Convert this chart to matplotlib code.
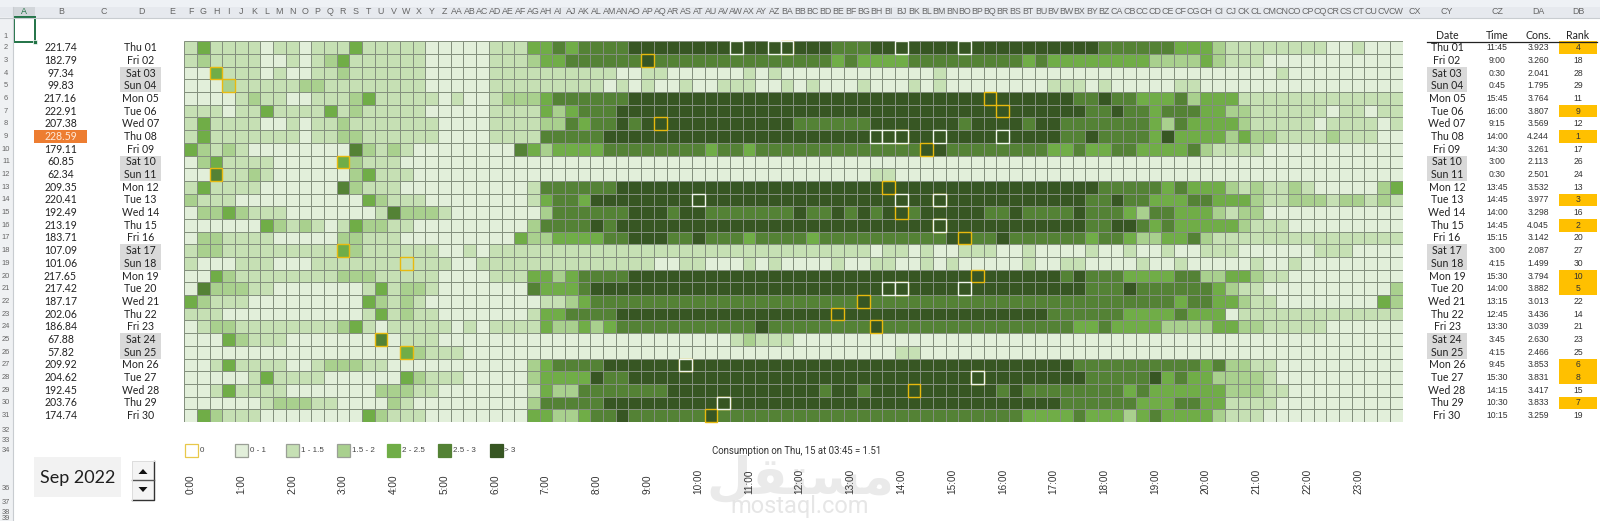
#!/usr/bin/env python3
"""Monthly load-profile heat map, redrawn from an Excel sheet screenshot."""

import matplotlib
import matplotlib.patches as patches
import matplotlib.pyplot as plt
import numpy as np
from matplotlib.colors import BoundaryNorm, ListedColormap

matplotlib.use("Agg")

W, H = 1600, 521

DAYS = [
    "Thu 01", "Fri 02", "Sat 03", "Sun 04", "Mon 05", "Tue 06", "Wed 07", "Thu 08",
    "Fri 09", "Sat 10", "Sun 11", "Mon 12", "Tue 13", "Wed 14", "Thu 15", "Fri 16",
    "Sat 17", "Sun 18", "Mon 19", "Tue 20", "Wed 21", "Thu 22", "Fri 23", "Sat 24",
    "Sun 25", "Mon 26", "Tue 27", "Wed 28", "Thu 29", "Fri 30",
]
TOTALS = [
    221.74, 182.79, 97.34, 99.83, 217.16, 222.91, 207.38, 228.59, 179.11, 60.85,
    62.34, 209.35, 220.41, 192.49, 213.19, 183.71, 107.09, 101.06, 217.65, 217.42,
    187.17, 202.06, 186.84, 67.88, 57.82, 209.92, 204.62, 192.45, 203.76, 174.74,
]
PEAK_TIME = [
    "11:45", "9:00", "0:30", "0:45", "15:45", "16:00", "9:15", "14:00", "14:30", "3:00",
    "0:30", "13:45", "14:45", "14:00", "14:45", "15:15", "3:00", "4:15", "15:30", "14:00",
    "13:15", "12:45", "13:30", "3:45", "4:15", "9:45", "15:30", "14:15", "10:30", "10:15",
]
PEAK_CONS = [
    3.923, 3.260, 2.041, 1.795, 3.764, 3.807, 3.569, 4.244, 3.261, 2.113,
    2.501, 3.532, 3.977, 3.298, 4.045, 3.142, 2.087, 1.499, 3.794, 3.882,
    3.013, 3.436, 3.039, 2.630, 2.466, 3.853, 3.831, 3.417, 3.833, 3.259,
]
PEAK_RANK = [
    4, 18, 28, 29, 11, 9, 12, 1, 17, 26, 24, 13, 3, 16, 2,
    20, 27, 30, 10, 5, 22, 14, 21, 23, 25, 6, 8, 15, 7, 19,
]

# colour class of every quarter hour, one string per day (spaces only for reading)
LEVELS = [
    "24222212212224222 2211111222 44545555 6666666666666666 555 666 666666666666666 555555 444 3 22222222 11 2 11 1",
    "23222211212342222 2211111222 344 555555 6 55555555555555 4 5 4444 555555555 4 5 44444444 3333 4 3 222 11111111111",
    "11422212112232222 2211111222 2222222 11 22 111111 2 1 2 1111111111 11 2 11111111111111111111111111 2 111111111",
    "11132222233222222 2211111222 222222 1 2 1 2 11 2 11 222 11 2 1 2 111 2 111 2 1 2 11111111 222 1 2 11111 22 1111111111111111",
    "11112322112223422 22212112333 4 555555 6666666666666666666666 6666666666666 55 6 55 444 5 3 444 2222222222222",
    "22212242222423222 22111112222 4 3 4 555 66666666666666666666666 66666666666666 55 6 55 4 555 44 33 222222 1 22 1 2 2",
    "24222211212232222 22211112222 33 5 4 55 6 5 6 66666666666 555555 666 6666 5 6666 5 66 5555555 4 3 5 4444 3 22222 1 222 2 1 2",
    "24222222212233222 22211112222 55555 666666666666666666666666 666666666666 55 6 5555 4 6 4444 3 4 33 2222 3 22 2 1 1",
    "43232111111115323 2 11111111 5 4 3 4444 55555555 4 55 4 555555555555 5 66 55555555 44 5 44 55 4444 5 3 2222 11111111111",
    "13422221111143222 1111111111111111111111111111111111111111 111111111111111111111111111111111111111",
    "11522321111113422 2 111111111111111111111111111111111111 22 1 111111111111111111111111111111111111111",
    "24222211111153222 1111111111 2 555555 66666666666666666666666 666666666666666 55555 4 5 444 3 2 3 22 3 2 111 1 1 3 4",
    "32221111111111432 22111111112 4 55 4 66 66666666666666666666666 66666666666666 55 6 55 444 55 444 3 22 333 2 3 3 2 3 2",
    "13343222111111125 33321111111 3 555555 666 5 66 5555555 6 55 6 5 6 5 66 5 66666 55 6 5555 6 555 4 3 55 444 3 2 33 11111111111",
    "11111143232124332 2 111111111 3 5555 6 5 66666666666666666666666 66666666666666 55 66 5 4 5 44444 3 222 111111111",
    "13322221111133222 111111111 4 33 4444 55 666 55 6 555 4 5555 4 5555555 555 66 55 6 555555 4 55 4 33 44 5 3 22 2222222222222",
    "23322222222243222 2221121 222222222222222222222222222222 1 22 1 2 11 222 11 2 1111 2 11 2 11 2 11 222 111111 222 1111",
    "21112221112222222 2222 11 22222222222222 11 22 111 2 1 2 1111 2 11 22 11 2 1 2 1 1111 2 11 22 1111 2 11 2 11111 2 11 2 111",
    "11432222222233322 2221111222 44 3 4 5555 6666666666666666666666 666666666666 5 6 555 4444 55 33 44 3 22 111111111",
    "15333221111111242 3321111111 5 444 5 6666666666666666666666666 66666666666666 555 6 555555 4 3 22 111111111 1 3",
    "43222111111111432 32 111111111 22 3 4 555555555555555555555 6 555 555555555555555555555 4 55 44 3 22 11111111 4 3",
    "22211111111111242 3221111111 2 44 5555 66666666666666666666666 66666666666 555555 4444 5 444 1 2222222222222",
    "12332222222234212 22221212222 4 33 4 3 4 55555555555 6 55555555 6 55 5555555555555 44 5 4444 3333 44 33 22222 111111",
    "11143222111111151 222 11111111111111111111111 2 3 222 111111111 111111111111111111111111111111111111111",
    "11111111111111111 4 3 222 1111111111111111111111111111111111 2 2 11111111111111111111111111111111111111",
    "11242222112333221 1111111111 3 4 5555 666666666666666666666666 6666666666666 5555555555 4 5 33 22 1111111111",
    "11111242222111111 43222 11111 3 4444 6 55 6666666666666666666666 66666666666666 55555 6 4 5 44 3333 2 1111111111",
    "11242222111111133 3221111111 2 4 33 5555555 666666666666 5 66 5 666 6666666 5 6 55555555 4 5 444444 333 22 111111111",
    "11111123332211113 2 111111111 3 55555 666666666666666666666666 666666666666 555555 444 55 44 2222 1111111111",
    "14322211111111432 22 11111111 44 33 4 55 6 555555 6 555555555555555 555555555 4444 5 444 3 4 5 4444 3 222 11111111111",
]
LEVEL_COLORS = ["#E2EFDA", "#C6E0B4", "#A9D08E", "#70AD47", "#548235", "#375623"]
LEGEND_LABELS = ["0", "0 - 1", "1 - 1.5", "1.5 - 2", "2 - 2.5", "2.5 - 3", "> 3"]

# cells with a white frame (day index, quarter-hour index)
TOP_CELLS = [
    (0, 43), (0, 46), (0, 47), (0, 56), (0, 61),
    (7, 54), (7, 55), (7, 56), (7, 59), (7, 64),
    (12, 40), (12, 56), (12, 59), (14, 59),
    (19, 55), (19, 56), (19, 61),
    (25, 39), (26, 62), (28, 42),
]
HOURS = [f"{h}:00" for h in range(24)]

GRID_LEFT = 184.3
GRID_TOP = 41.3
CELL = 12.69
SHEET_TEXT = "#222222"
BODY_FONT = "Lato"
ARIAL = "Liberation Sans"


def excel_col(i):
    name = ""
    i += 1
    while i:
        i, rem = divmod(i - 1, 26)
        name = chr(65 + rem) + name
    return name


def row_y(i):
    return GRID_TOP + CELL * (i + 0.5)


def draw_sheet_frame(ax):
    ax.add_patch(patches.Rectangle((0, 0), W, 7, fc="#EEF1F5", ec="none"))
    ax.add_patch(patches.Rectangle((0, 7), W, 10.5, fc="#E6E9EE", ec="none"))
    ax.add_patch(patches.Rectangle((0, 17), 12.5, H - 17, fc="#EFF1F3", ec="none"))
    ax.plot([0, W], [17.5, 17.5], color="#C8CCD0", lw=0.8)
    ax.plot([12.5, 12.5], [7, H], color="#C8CCD0", lw=0.8)

    # column letters: five narrow ones, 96 of the grid, four of the right table
    centers = [24, 61, 103.5, 141, 172]
    centers += [GRID_LEFT + CELL * (i + 0.5) for i in range(96)]
    centers += [1415, 1447, 1497, 1538, 1578]
    ax.add_patch(patches.Rectangle((12.5, 7), 22.5, 10.5, fc="#D2D6DA", ec="none"))
    for i, x in enumerate(centers):
        ax.text(x, 11.7, excel_col(i), ha="center", va="center",
                fontsize=6.4, family=ARIAL, color="#666666" if i else "#217346")

    rows = [(1, 36)] + [(i + 2, row_y(i)) for i in range(30)]
    rows += [(32, 431), (33, 440), (34, 451), (36, 489), (37, 503), (38, 512), (39, 519)]
    for num, y in rows:
        ax.text(6, y, str(num), ha="center", va="center",
                fontsize=5.4, family=ARIAL, color="#666666")

    # selected A1 cell
    ax.add_patch(patches.Rectangle((13.5, 17), 21.5, 24.5, fc="white", ec="#217346", lw=1.4))
    ax.add_patch(patches.Rectangle((32.5, 40), 4, 4, fc="#217346", ec="white", lw=0.5))


def draw_left_table(ax):
    for i, (day, total) in enumerate(zip(DAYS, TOTALS)):
        y = row_y(i)
        is_max = total == max(TOTALS)
        if is_max:
            ax.add_patch(patches.Rectangle((34, y - CELL / 2), 53, CELL, fc="#ED7D31", ec="none"))
        ax.text(60.5, y, f"{total:.2f}", ha="center", va="center", fontsize=7.6,
                family=BODY_FONT, color="#FFE9D8" if is_max else SHEET_TEXT)
        if day[:3] in ("Sat", "Sun"):
            ax.add_patch(patches.Rectangle((120, y - CELL / 2), 40.5, CELL, fc="#D9D9D9", ec="none"))
        ax.text(140.5, y, day, ha="center", va="center", fontsize=7.6,
                family=BODY_FONT, color=SHEET_TEXT)


def draw_right_table(ax):
    for x, head in zip([1447, 1497, 1538, 1578], ["Date", "Time", "Cons.", "Rank"]):
        ax.text(x, 35.5, head, ha="center", va="center", fontsize=7.6,
                family=BODY_FONT, color=SHEET_TEXT)
    ax.plot([1427, 1597], [41.8, 41.8], color="#222222", lw=0.9)
    for i, day in enumerate(DAYS):
        y = row_y(i)
        if day[:3] in ("Sat", "Sun"):
            ax.add_patch(patches.Rectangle((1427, y - CELL / 2), 40, CELL, fc="#D9D9D9", ec="none"))
        ax.text(1447, y, day, ha="center", va="center", fontsize=7.6,
                family=BODY_FONT, color=SHEET_TEXT)
        ax.text(1497, y, PEAK_TIME[i], ha="center", va="center", fontsize=6.2,
                family=ARIAL, color="#333333")
        ax.text(1538, y, f"{PEAK_CONS[i]:.3f}", ha="center", va="center", fontsize=6.2,
                family=ARIAL, color="#333333")
        if PEAK_RANK[i] <= 10:
            ax.add_patch(patches.Rectangle((1558.7, y - CELL / 2), 38, CELL, fc="#FFC000", ec="none"))
        ax.text(1578, y, str(PEAK_RANK[i]), ha="center", va="center", fontsize=6.2,
                family=ARIAL, color="#333333")


def draw_heatmap(fig):
    heat_ax = fig.add_axes([GRID_LEFT / W, 1 - (GRID_TOP + 30 * CELL) / H,
                            96 * CELL / W, 30 * CELL / H])
    grid = np.array([[int(c) for c in row.replace(" ", "").ljust(96, "1")[:96]] for row in LEVELS])
    cmap = ListedColormap(LEVEL_COLORS)
    norm = BoundaryNorm(np.arange(0.5, 7.5), cmap.N)
    heat_ax.pcolormesh(np.arange(97), np.arange(31), grid, cmap=cmap, norm=norm)
    # thin sheet borders, drawn apart so they do not eat into the cells
    heat_ax.vlines(np.arange(97), 0, 30, color="#84907E", lw=0.72, zorder=2)
    heat_ax.hlines(np.arange(31), 0, 96, color="#84907E", lw=0.72, zorder=2)
    heat_ax.set_xlim(0, 96)
    heat_ax.set_ylim(30, 0)
    heat_ax.axis("off")

    # daily peak frame, then the white frames on top
    for day, t in enumerate(PEAK_TIME):
        h, m = t.split(":")
        col = int(h) * 4 + int(m) // 15
        heat_ax.add_patch(patches.Rectangle((col, day), 1, 1, fc="none", ec="#E8B90F",
                                            lw=1.0, zorder=4, clip_on=False))
    for day, col in TOP_CELLS:
        heat_ax.add_patch(patches.Rectangle((col, day), 1, 1, fc=LEVEL_COLORS[grid[day, col] - 1],
                                            ec="#F2F5EE", lw=1.0, zorder=5, clip_on=False))


def draw_bottom(ax):
    # watermark first, everything else sits over it
    ax.text(800, 480, "\uFEDE\uFED8\uFE98\uFEB4\uFEE3", ha="center", va="center",
            fontsize=37, fontweight="bold", family="DejaVu Sans", color="#EAEAEA", zorder=0)
    ax.text(800, 507, "mostaql.com", ha="center", va="center",
            fontsize=17, family="Roboto", color="#E6E6E6", zorder=0)

    swatch_x = [184.5, 235, 286, 337, 387, 438, 489.5]
    for i, (x, label) in enumerate(zip(swatch_x, LEGEND_LABELS)):
        if i == 0:
            ax.add_patch(patches.Rectangle((x, 443.5), 13, 13, fc="white", ec="#E8C84A", lw=0.9))
        else:
            edge = "#9A9F96" if i < 4 else LEVEL_COLORS[i - 1]
            ax.add_patch(patches.Rectangle((x, 443.5), 13, 13, fc=LEVEL_COLORS[i - 1], ec=edge, lw=0.9))
        ax.text(x + 15, 450, label, ha="left", va="center", fontsize=5.8,
                family=ARIAL, color="#444444")

    ax.text(712, 451, "Consumption on Thu, 15 at 03:45 = 1.51", ha="left", va="center",
            fontsize=6.9, family="Roboto", stretch="condensed", color="#333333", zorder=3)

    for i, label in enumerate(HOURS):
        x = GRID_LEFT + CELL * (i * 4 + 0.5)
        ax.text(x, 494, label, ha="center", va="bottom", rotation=90, fontsize=7.2,
                family=ARIAL, color="#333333", zorder=3)

    # month box and spinner
    ax.add_patch(patches.Rectangle((34, 457), 87, 40, fc="#F2F2F2", ec="none"))
    ax.text(77.5, 478, "Sep 2022", ha="center", va="center", fontsize=13,
            family=BODY_FONT, color="#1F1F1F")
    ax.add_patch(patches.Rectangle((132, 461), 22, 39, fc="#F4F4F4", ec="none"))
    ax.plot([154, 154, 132], [461, 500, 500], color="#333333", lw=1.0)
    ax.plot([132, 154], [480, 480], color="#555555", lw=1.0)
    ax.plot([132, 132, 154], [500, 461, 461], color="#DDDDDD", lw=0.7)
    ax.add_patch(patches.Polygon([[138.5, 474], [147.5, 474], [143, 469]], fc="#111111", ec="none"))
    ax.add_patch(patches.Polygon([[138.5, 487], [147.5, 487], [143, 492]], fc="#111111", ec="none"))


def main():
    fig = plt.figure(figsize=(W / 100, H / 100), dpi=100, facecolor="white")
    ax = fig.add_axes([0, 0, 1, 1])
    ax.set_xlim(0, W)
    ax.set_ylim(H, 0)
    ax.axis("off")

    draw_sheet_frame(ax)
    draw_left_table(ax)
    draw_right_table(ax)
    draw_bottom(ax)
    draw_heatmap(fig)

    fig.savefig("out.png", dpi=100, facecolor="white")
    plt.close(fig)


if __name__ == "__main__":
    main()
